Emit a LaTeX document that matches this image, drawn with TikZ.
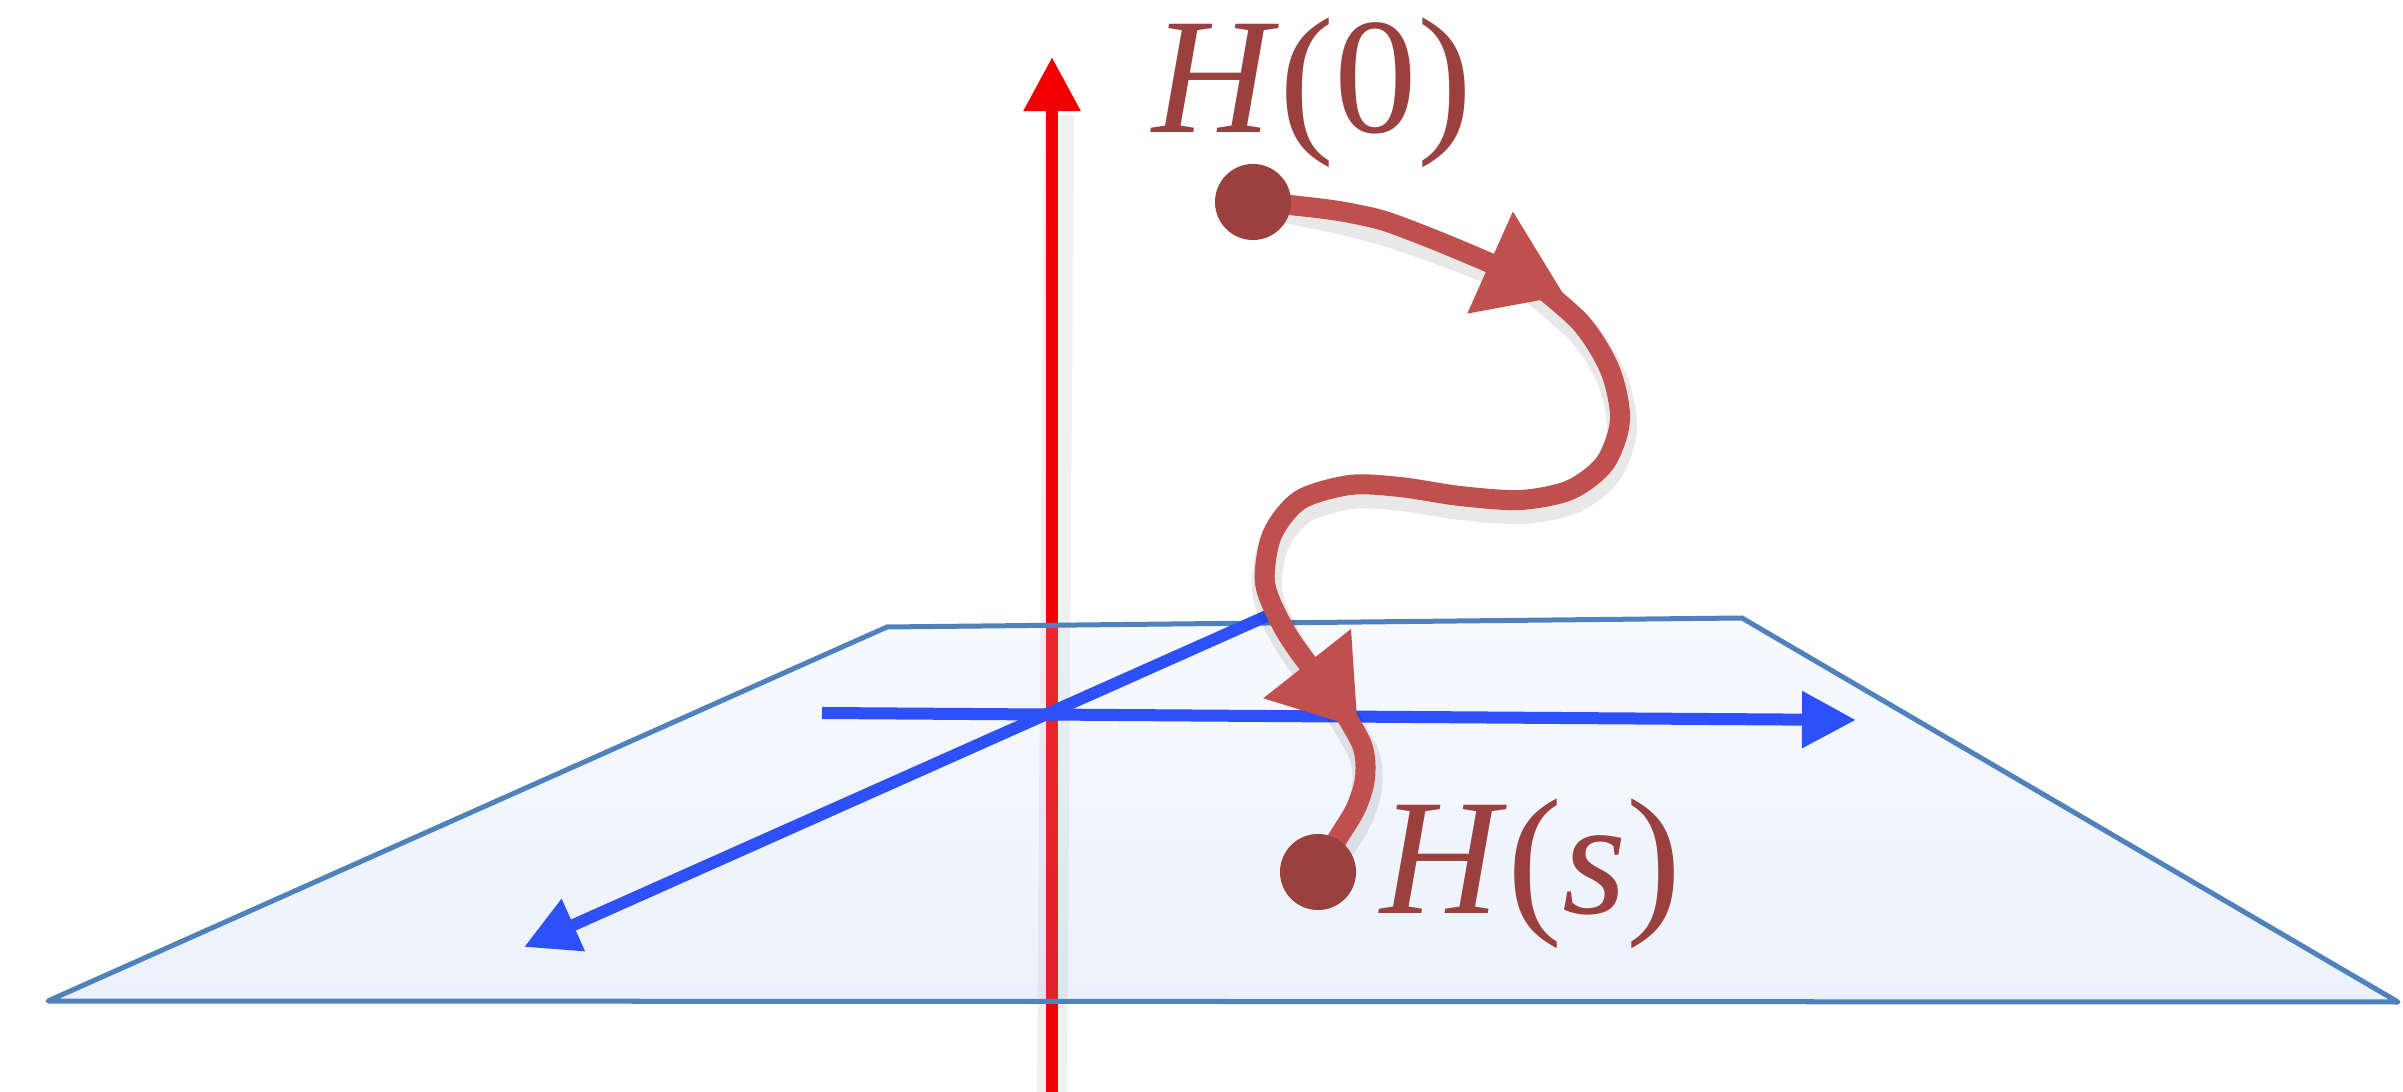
\documentclass[tikz,border=0pt]{standalone}
\usepackage{fontspec}
\setmainfont{Liberation Serif}
\usepackage{tikz}
\usetikzlibrary{arrows.meta}
\definecolor{axisred}{RGB}{242,0,0}
\definecolor{axisblue}{RGB}{45,80,250}
\definecolor{planeline}{RGB}{79,129,189}
\definecolor{planetop}{RGB}{216,227,249}
\definecolor{planebot}{RGB}{144,177,238}
\definecolor{pathred}{RGB}{192,80,77}
\definecolor{dotred}{RGB}{154,64,62}
\pgfdeclarelayer{fg}
\pgfsetlayers{main,fg}

\begin{document}
\begin{tikzpicture}[x=0.01cm, y=-0.01cm,
    axis/.style={line width=0.12cm, -{Triangle[length=0.54cm, width=0.54cm]}},
    flow/.style={pathred, line width=0.2cm, line cap=round, line join=round},
    flowshadow/.style={draw=black, draw opacity=0.09, line width=0.3cm, line cap=round, line join=round, yshift=-0.09cm, xshift=0.02cm},
    flowtip/.style={-{Triangle[length=0.82cm, width=1.06cm]}},
    stop/.style={circle, fill=dotred, minimum size=0.76cm, inner sep=0pt},
    lbl/.style={text=dotred, font=\fontsize{47}{50}\selectfont, inner sep=0pt, anchor=base west}]
  \useasboundingbox (0,0) rectangle (2403,1092);

  % vertical axis, under the plane
  \coordinate (zlow) at (1052,1092);
  \coordinate (ztop) at (1052,57);
  \draw[black, opacity=0.06, line width=0.3cm, xshift=0.07cm] (zlow) -- (1052,115);
  \draw[axis, axisred] (zlow) -- (ztop);

  % the plane
  \coordinate (p1) at (48,1001);
  \coordinate (p2) at (887,627);
  \coordinate (p3) at (1742,618);
  \coordinate (p4) at (2398,1002);
  \shade[top color=planetop, bottom color=planebot, fill opacity=0.18] (p1) -- (p2) -- (p3) -- (p4) -- cycle;
  \draw[planeline, line width=0.05cm, line join=round] (p1) -- (p2) -- (p3) -- (p4) -- cycle;

  % axes in the plane
  \coordinate (xback) at (1269,615);
  \coordinate (xfront) at (524,947);
  \coordinate (yleft) at (822,713);
  \coordinate (yright) at (1856,720);
  \draw[axis, axisblue] (xback) -- (xfront);
  \draw[axis, axisblue] (yleft) -- (yright);

  % end points and labels
  \begin{pgfonlayer}{fg}
    \node[stop] (h0) at (1253,202) {};
    \node[stop] (hs) at (1318,872) {};
  \end{pgfonlayer}
  \node[lbl] (l0) at (1152,133) {\textit{H}(0)};
  \node[lbl] (ls) at (1380,913) {\textit{H}(\textit{s})};

  % the flow from H(0) to H(s)
  \coordinate (t1) at (1565,296);
  \coordinate (t2) at (1358,728);
  \draw[flowshadow] plot[smooth, tension=0.7] coordinates {(h0.center) (1350,213) (1425,236) (1500,265)};
  \draw[flowshadow] plot[smooth] coordinates {(1525,275) (1580,322) (1610,370) (1620,420) (1605,463) (1570,490) (1520,500) (1460,496) (1400,487) (1350,485) (1300,500) (1272,535) (1265,583) (1282,625) (1305,660) (1330,690)};
  \draw[flowshadow] plot[smooth] coordinates {(1335,698) (1362,745) (1365,778) (1356,808) (1338,838) (hs.center)};
  \draw[flow, flowtip] plot[smooth, tension=0.7] coordinates {(h0.center) (1350,213) (1425,236) (t1)};
  \draw[flow, flowtip] plot[smooth] coordinates {(1525,275) (1580,322) (1610,370) (1620,420) (1605,463) (1570,490) (1520,500) (1460,496) (1400,487) (1350,485) (1300,500) (1272,535) (1265,583) (1282,625) (1305,660) (t2)};
  \draw[flow] plot[smooth] coordinates {(1335,698) (1362,745) (1365,778) (1356,808) (1338,838) (hs.center)};
\end{tikzpicture}
\end{document}
